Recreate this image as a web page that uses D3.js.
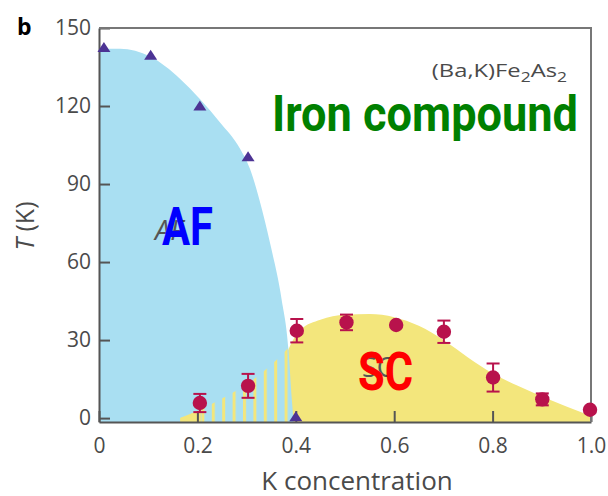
<!DOCTYPE html>
<html lang="en">
<head>
    <meta charset="UTF-8" />
    <script src="https://d3js.org/d3.v7.min.js"></script>
    <title>Phase diagram</title>
    <style>
        body { margin: 0; background: #fff; }
        .tick text { font-family: "Open Sans", sans-serif; font-size: 21px; fill: #4a4a4a; }
        .axis path, .axis line { stroke: #555; stroke-width: 2; }
        .frame { stroke: #777; stroke-width: 2; fill: none; }
    </style>
</head>
<body>
    <svg id="chart" width="608" height="496"></svg>
    <script>
        // AF transition points (triangles)
        const afX = [0.01, 0.105, 0.205, 0.303, 0.40];
        const afT = [142.5, 139.5, 120, 100.5, 0.5];

        // SC transition points (circles) with error bars
        const scX = [0.205, 0.303, 0.402, 0.503, 0.604, 0.701, 0.801, 0.901, 0.998];
        const scT = [5.8, 12.4, 33.6, 36.8, 35.8, 33.2, 15.6, 7.2, 3.2];
        const scErr = [3.5, 4.6, 4.5, 3, 0, 4.3, 5.4, 2.3, 0];

        // shaded phase boundaries
        const afEdgeX = [0, 0.043, 0.104, 0.165, 0.205, 0.246, 0.287, 0.307, 0.326, 0.348, 0.371, 0.385, 0.392, 0.395];
        const afEdgeT = [142, 142, 139, 130.4, 122.7, 113.7, 103.5, 95.8, 84, 67, 45.8, 26.6, 7, 0];
        const scEdgeX = [0.38, 0.39, 0.41, 0.45, 0.5, 0.55, 0.6, 0.65, 0.7, 0.75, 0.8, 0.85, 0.9, 0.95, 1.0];
        const scEdgeT = [24, 28.5, 34, 37.8, 39.7, 40, 38.8, 35.5, 30, 23.3, 17.2, 12.5, 8.3, 4.5, 0.8];
        const hatchX = [0.165, 0.2, 0.25, 0.3, 0.35, 0.39];
        const hatchT = [0, 2.7, 7.5, 13, 20.5, 28];
        const wedgeX = [0.165, 0.2, 0.207];
        const wedgeT = [0, 2.7, 3.3];

        // ticks
        const xTicks = [0, 0.2, 0.4, 0.6, 0.8, 1.0];
        const xTickLabels = ["0", "0.2", "0.4", "0.6", "0.8", "1.0"];
        const yTicks = [0, 30, 60, 90, 120, 150];

        const svg = d3.select("#chart");
        const x = d3.scaleLinear().domain([0, 1]).range([99, 591]);
        const y = d3.scaleLinear().domain([-1.5, 150]).range([422, 28]);

        const blue = "#a9dff2", yellow = "#f3e67c", crimson = "#b8124c", purple = "#4c3394";

        // stripe pattern for the coexistence region
        const defs = svg.append("defs");
        defs.append("pattern")
            .attr("id", "stripes")
            .attr("patternUnits", "userSpaceOnUse")
            .attr("x", 211.8).attr("y", 0)
            .attr("width", 10.4).attr("height", 10)
            .append("rect")
            .attr("width", 3).attr("height", 10)
            .attr("fill", yellow);

        const area = d3.area()
            .x(d => x(d[0]))
            .y0(y(-1.5))
            .y1(d => y(d[1]))
            .curve(d3.curveMonotoneX);

        svg.append("path")
            .datum(d3.zip(scEdgeX, scEdgeT))
            .attr("d", area)
            .attr("fill", yellow);

        svg.append("path")
            .datum(d3.zip(afEdgeX, afEdgeT))
            .attr("d", area)
            .attr("fill", blue);

        svg.append("path")
            .datum(d3.zip(hatchX, hatchT))
            .attr("d", area)
            .attr("fill", "url(#stripes)");

        svg.append("path")
            .datum(d3.zip(wedgeX, wedgeT))
            .attr("d", area.curve(d3.curveLinear))
            .attr("fill", yellow);

        // axes
        const xAxis = d3.axisBottom(x)
            .tickValues(xTicks)
            .tickFormat((d, i) => xTickLabels[i])
            .tickSizeInner(-11)
            .tickSizeOuter(0)
            .tickPadding(16);
        svg.append("g")
            .attr("class", "axis")
            .attr("transform", `translate(0,${y(-1.5)})`)
            .call(xAxis)
            .selectAll("text").attr("dy", "0.71em");

        const yAxis = d3.axisLeft(y)
            .tickValues(yTicks)
            .tickSizeInner(-11)
            .tickSizeOuter(0)
            .tickPadding(8);
        svg.append("g")
            .attr("class", "axis")
            .attr("transform", `translate(${x(0)},0)`)
            .call(yAxis);

        svg.append("path")
            .attr("class", "frame")
            .attr("d", `M${x(0)},${y(150)}H${x(1)}V${y(-1.5)}`);

        // triangles
        svg.selectAll("path.af")
            .data(d3.zip(afX, afT))
            .join("path")
            .attr("class", "af")
            .attr("transform", d => `translate(${x(d[0])},${y(d[1])})`)
            .attr("d", "M0,-5.5L6.5,4.5L-6.5,4.5Z")
            .attr("fill", purple);

        // error bars
        const sc = d3.zip(scX, scT, scErr).filter(d => d[2] > 0);
        const eb = svg.selectAll("g.eb").data(sc).join("g").attr("class", "eb")
            .attr("stroke", crimson).attr("stroke-width", 2);
        eb.append("line")
            .attr("x1", d => x(d[0])).attr("x2", d => x(d[0]))
            .attr("y1", d => y(d[1] - d[2])).attr("y2", d => y(d[1] + d[2]));
        eb.append("line")
            .attr("x1", d => x(d[0]) - 6.5).attr("x2", d => x(d[0]) + 6.5)
            .attr("y1", d => y(d[1] + d[2])).attr("y2", d => y(d[1] + d[2]));
        eb.append("line")
            .attr("x1", d => x(d[0]) - 6.5).attr("x2", d => x(d[0]) + 6.5)
            .attr("y1", d => y(d[1] - d[2])).attr("y2", d => y(d[1] - d[2]));

        svg.selectAll("circle.sc")
            .data(d3.zip(scX, scT))
            .join("circle")
            .attr("class", "sc")
            .attr("cx", d => x(d[0]))
            .attr("cy", d => y(d[1]))
            .attr("r", 7.2)
            .attr("fill", crimson);

        // labels
        svg.append("text")
            .attr("x", 17).attr("y", 35)
            .style("font-family", "'Open Sans', sans-serif")
            .style("font-weight", "bold").style("font-size", "23px")
            .text("b");

        const yTitle = svg.append("text")
            .attr("transform", "translate(34,226) rotate(-90)")
            .attr("text-anchor", "middle")
            .style("font-family", "'Open Sans', sans-serif")
            .style("font-size", "25px").style("fill", "#4a4a4a");
        yTitle.append("tspan").style("font-style", "italic").text("T");
        yTitle.append("tspan").text(" (K)");

        svg.append("text")
            .attr("x", 357).attr("y", 490)
            .attr("text-anchor", "middle")
            .style("font-family", "'Open Sans', sans-serif")
            .style("font-size", "26px").style("fill", "#4a4a4a")
            .text("K concentration");

        // formula, a bit wide like the source figure
        const formula = svg.append("text")
            .attr("transform", "translate(567,77) scale(1.25,1)")
            .attr("text-anchor", "end")
            .style("font-family", "'Open Sans', sans-serif")
            .style("font-size", "19px").style("fill", "#4a4a4a");
        formula.append("tspan").text("(Ba,K)Fe");
        formula.append("tspan").attr("dy", 5).style("font-size", "14px").text("2");
        formula.append("tspan").attr("dy", -5).text("As");
        formula.append("tspan").attr("dy", 5).style("font-size", "14px").text("2");

        svg.append("text")
            .attr("x", 155).attr("y", 240)
            .style("font-family", "'Open Sans', sans-serif")
            .style("font-style", "italic").style("font-size", "27px").style("fill", "#555")
            .text("AF");
        svg.append("text")
            .attr("x", 362).attr("y", 377)
            .style("font-family", "'Open Sans', sans-serif")
            .style("font-size", "27px").style("fill", "#555")
            .text("SC");

        function bigLabel(txt, x0, y0, len, color, size) {
            svg.append("text")
                .attr("x", x0).attr("y", y0)
                .attr("textLength", len)
                .attr("lengthAdjust", "spacingAndGlyphs")
                .style("font-family", "Roboto, sans-serif")
                .style("font-weight", "bold")
                .style("font-size", size + "px")
                .style("fill", color)
                .text(txt);
        }
        bigLabel("Iron compound", 272, 131, 306, "#008000", 50);
        bigLabel("AF", 162, 245, 51, "#0000ff", 53);
        bigLabel("SC", 358, 390, 55, "#ff0000", 53);
    </script>
</body>
</html>
